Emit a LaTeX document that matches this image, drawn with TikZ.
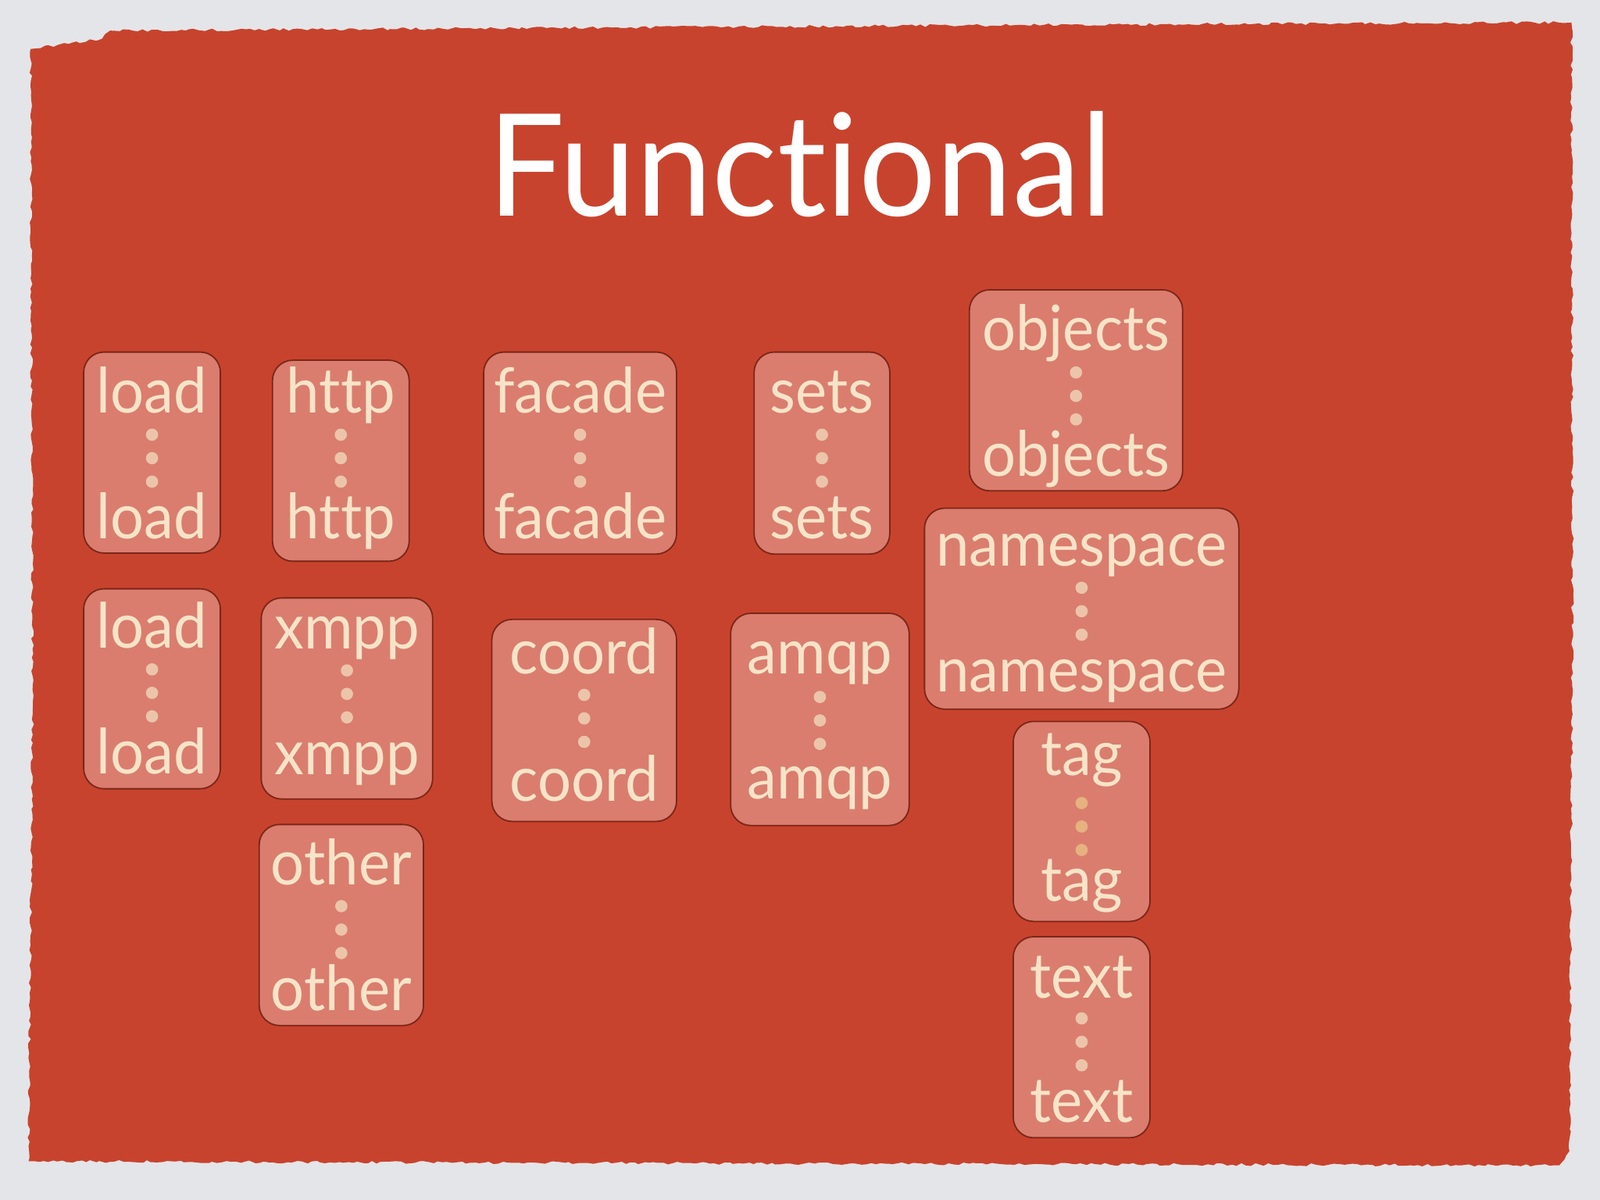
\documentclass[tikz,border=0pt]{standalone}
\usepackage{fontspec}
\setmainfont{Lato}[Ligatures={NoCommon}]
\usetikzlibrary{decorations.pathmorphing}
\definecolor{bg}{HTML}{E4E5E8}
\definecolor{panel}{HTML}{C8432D}
\definecolor{cardfill}{HTML}{DA7D6E}
\definecolor{cardline}{HTML}{7A2619}
\definecolor{wordcol}{HTML}{F7E4C8}
\definecolor{dotcol}{HTML}{ECC4AA}
\definecolor{dotorange}{HTML}{E6B27F}
\begin{document}
\begin{tikzpicture}[x=0.653pt,y=-0.653pt,
  cardbox/.style={fill=cardfill,draw=cardline,line width=0.9pt,rounded corners=13pt},
  word/.style={text=wordcol,font=\fontsize{40}{40}\selectfont,inner sep=0pt,anchor=base},
  titletext/.style={text=white,font=\fontsize{91}{91}\selectfont,inner sep=0pt,anchor=base}]
\useasboundingbox (0,0) rectangle (1568,1176);
\fill[bg] (0,0) rectangle (1568,1176);
\fill[panel,decorate,decoration={random steps,segment length=3pt,amplitude=0.9pt}]
  (30,48) -- (70,42) -- (100,38) -- (108,30) -- (600,27) -- (1100,24) -- (1540,22)
  -- (1541,600) -- (1538,1128) -- (1528,1142) -- (700,1140) -- (28,1138) -- (32,700) -- cycle;
\node[titletext] (title) at (784,212) {\scalebox{0.96}[1]{Functional}};
\foreach \n/\w/\l/\r/\t/\b/\ya/\yb/\d/\dc in {
  loadA/load/82/216/345/542/405/528/426/dotcol,
  http/http/267/401/353/550/405/528/426/dotcol,
  facade/facade/474/663/345/543/405/528/426/dotcol,
  sets/sets/739/872/345/543/405/528/426/dotcol,
  objects/objects/950/1159/284/481/343/467/365/dotcol,
  namespace/namespace/906/1214/498/695/555/678/576/dotcol,
  loadB/load/82/216/577/773/635/758/656/dotcol,
  xmpp/xmpp/256/424/586/783/636/759/657/dotcol,
  coord/coord/482/663/607/805/660/785/681/dotcol,
  amqp/amqp/716/891/601/809/660/783/683/dotcol,
  tag/tag/993/1127/707/903/760/883/787/dotorange,
  text/text/993/1127/918/1115/978/1100/998/dotcol,
  other/other/254/415/808/1005/867/990/888/dotcol}{
  \draw[cardbox] (\l,\t) rectangle (\r,\b);
  \node[word] (\n-a) at ({(\l+\r)/2},\ya) {\scalebox{0.95}[1]{\w}};
  \node[word] (\n-b) at ({(\l+\r)/2},\yb) {\scalebox{0.95}[1]{\w}};
  \fill[\dc] ({(\l+\r)/2},\d) circle (6);
  \fill[\dc] ({(\l+\r)/2},\d+23) circle (6);
  \fill[\dc] ({(\l+\r)/2},\d+46) circle (6);
}
\end{tikzpicture}
\end{document}
